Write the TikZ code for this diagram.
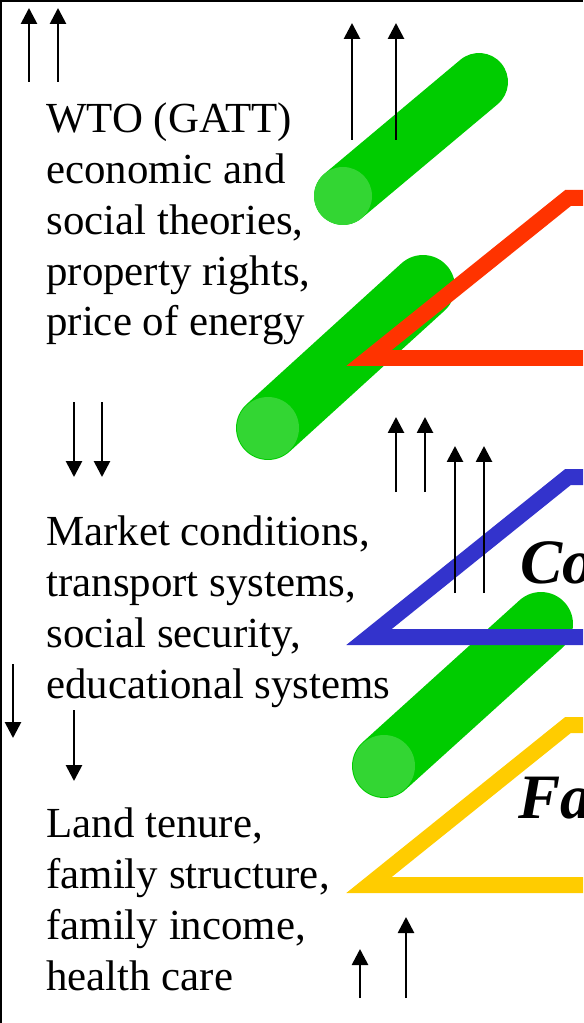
\documentclass[tikz,border=0pt]{standalone}
\usepackage{fontspec}
\setmainfont{Liberation Serif}
\usetikzlibrary{arrows.meta}
\definecolor{rodc}{HTML}{00CC00}
\definecolor{rodendc}{HTML}{33D633}
\definecolor{worldc}{HTML}{FF3300}
\definecolor{countryc}{HTML}{3333CC}
\definecolor{familyc}{HTML}{FFCC00}
\tikzset{
  blocktext/.style={inner sep=0pt, align=left, anchor=base west,
    font=\fontsize{24.4}{29}\selectfont},
  leveltext/.style={inner sep=0pt, anchor=base west,
    font=\fontsize{36}{40}\selectfont\bfseries\itshape},
  levelframe/.style={line width=0.32cm, miter limit=10},
  rod/.style={draw=rodc, line cap=round},
  rodend/.style={fill=rodendc},
  flowarrow/.style={-{Triangle[length=0.32cm, width=0.32cm]}, line width=0.055cm},
}
\begin{document}
\begin{tikzpicture}[x=0.02cm, y=-0.02cm]
  \useasboundingbox (0,0) rectangle (583,1023);
  \clip (0,0) rectangle (583,1023);
  % green rods
  \draw[rod, line width=1.16cm] (343,196) -- (479,82);
  \fill[rodend] (343,196) circle (0.58cm);
  \draw[rod, line width=1.28cm] (268,428) -- (423,287);
  \fill[rodend] (268,428) circle (0.62cm);
  \draw[rod, line width=1.28cm] (384,766) -- (541,624);
  \fill[rodend] (384,766) circle (0.62cm);
  % level frames
  \draw[levelframe, worldc] (600,198) -- (568,198) -- (369,358) -- (600,358);
  \draw[levelframe, countryc] (600,477) -- (568,477) -- (369,637) -- (600,637);
  \draw[levelframe, familyc] (600,725) -- (568,725) -- (369,885) -- (600,885);
  \node[leveltext] (co) at (520,583) {Co};
  \node[leveltext] (fa) at (518,818) {Fa};
  % frame
  \draw[line width=0.08cm] (0,1023) -- (0,0) -- (583,0);
  % text blocks (base = last line)
  \node[blocktext] (wto) at (46,336) {WTO (GATT)\\economic and\\social theories,\\property rights,\\price of energy};
  \node[blocktext] (market) at (46,698) {Market conditions,\\transport systems,\\social security,\\educational systems};
  \node[blocktext] (land) at (46,990) {Land tenure,\\family structure,\\family income,\\health care};
  % arrows
  \draw[flowarrow] (29,82) -- (29,8);
  \draw[flowarrow] (58,82) -- (58,8);
  \draw[flowarrow] (352,140) -- (352,23);
  \draw[flowarrow] (396,140) -- (396,23);
  \draw[flowarrow] (74,402) -- (74,477);
  \draw[flowarrow] (102,402) -- (102,477);
  \draw[flowarrow] (396,492) -- (396,417);
  \draw[flowarrow] (425,492) -- (425,417);
  \draw[flowarrow] (455,593) -- (455,446);
  \draw[flowarrow] (484,593) -- (484,446);
  \draw[flowarrow] (13,664) -- (13,738);
  \draw[flowarrow] (74,710) -- (74,781);
  \draw[flowarrow] (360,998) -- (360,949);
  \draw[flowarrow] (406,998) -- (406,917);
\end{tikzpicture}
\end{document}
